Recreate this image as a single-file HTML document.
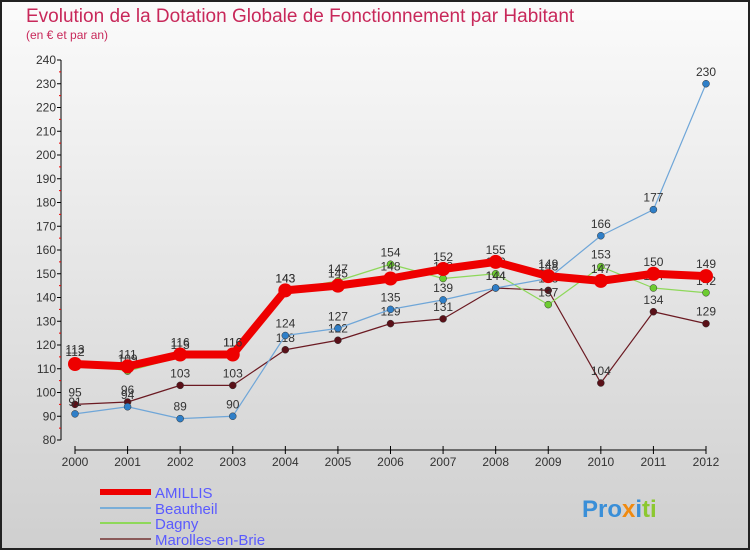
<!DOCTYPE html>
<html><head><meta charset="utf-8"><style>
body{margin:0}
svg text{font-family:"Liberation Sans",sans-serif}
</style></head><body>
<svg width="750" height="550" viewBox="0 0 750 550">
<defs><linearGradient id="bg" x1="0" y1="0" x2="0" y2="1"><stop offset="0" stop-color="#fbfbfb"/><stop offset="1" stop-color="#cfcfcf"/></linearGradient></defs>
<rect x="1" y="1" width="748" height="548" fill="url(#bg)" stroke="#222" stroke-width="2"/>
<text x="26" y="22" font-size="19" fill="#c8285a">Evolution de la Dotation Globale de Fonctionnement par Habitant</text>
<text x="26" y="39" font-size="12" fill="#c8285a">(en € et par an)</text>
<g id="axes"></g><g id="series"></g><g id="legend"></g>
</svg>
<script>
const years=[2000,2001,2002,2003,2004,2005,2006,2007,2008,2009,2010,2011,2012];
const yTicks=[80,90,100,110,120,130,140,150,160,170,180,190,200,210,220,230,240];
const amillis=[112,111,116,116,143,145,148,152,155,149,147,150,149];
const beautheil=[91,94,89,90,124,127,135,139,144,148,166,177,230];
const dagny=[113,109,115,116,143,147,154,148,150,137,153,144,142];
const marolles=[95,96,103,103,118,122,129,131,144,143,104,134,129];
const NS="http://www.w3.org/2000/svg";
const x=i=>75+i*(706-75)/12;
const y=v=>440-(v-80)*380/160;
function mk(tag,attrs,parent){const e=document.createElementNS(NS,tag);for(const k in attrs)e.setAttribute(k,attrs[k]);parent.appendChild(e);return e;}
const ax=document.getElementById('axes');
let yl=mk('line',{x1:61,y1:60,x2:61,y2:440,stroke:'#000'},ax);


yTicks.forEach(v=>{
 let t=mk('line',{x1:57,x2:61,y1:y(v),y2:y(v),stroke:'#000'},ax);
 
 
 if(v<240){
 let m=mk('line',{x1:59,x2:61,y1:y(v+5),y2:y(v+5),stroke:'#e00'},ax);
 
 
 }
 let tx=mk('text',{x:56,y:y(v)+4,'font-size':12,'text-anchor':'end',fill:'#333'},ax);tx.textContent=v;
 
 
});
let xl=mk('line',{x1:75,y1:450,x2:706,y2:450,stroke:'#000'},ax);


years.forEach((yr,i)=>{
 let t=mk('line',{x1:x(i),x2:x(i),y1:446,y2:454,stroke:'#000'},ax);
 
 
 let tx=mk('text',{x:x(i),y:466,'font-size':12,'text-anchor':'middle',fill:'#333'},ax);tx.textContent=yr;
 
 
});
const sg=document.getElementById('series');
const defs=[[marolles,'#6b1a22','#5a1018',1.2,3.5,'marolles'],[dagny,'#8ed85a','#6ccc30',1.2,3.5,'dagny'],[beautheil,'#6fa6d8','#2f7fc8',1.2,3.5,'beautheil'],[amillis,'#ee0000','#ee0000',8,7,'amillis']];
defs.forEach(([d,lc,pc,w,r,n])=>{
 let p=mk('polyline',{points:d.map((v,i)=>x(i)+','+y(v)).join(' '),fill:'none',stroke:lc,'stroke-width':w,'stroke-linejoin':'round'},sg);
 
 
 d.forEach((v,i)=>{
  let c=mk('circle',{cx:x(i),cy:y(v),r:r,fill:pc,stroke:'#333','stroke-width':n=='amillis'?0:0.5},sg);
  
  
  let t=mk('text',{x:x(i),y:y(v)-8,'font-size':12,'text-anchor':'middle',fill:'#333'},sg);t.textContent=v;
  
  
 });
});
</script>
<script>
(function(){
const lg=document.getElementById('legend');const NS="http://www.w3.org/2000/svg";
const names=['AMILLIS','Beautheil','Dagny','Marolles-en-Brie'];
const cols=['#ee0000','#7aaed8','#8ed85a','#8a5a5a'];
const ws=[6,2,2,2];
const ys=[492,508,523,539];
names.forEach((nm,k)=>{
 const l=document.createElementNS(NS,'line');
 l.setAttribute('x1',100);l.setAttribute('x2',151);l.setAttribute('y1',ys[k]);l.setAttribute('y2',ys[k]);
 l.setAttribute('stroke',cols[k]);l.setAttribute('stroke-width',ws[k]);
 
 
 lg.appendChild(l);
 const t=document.createElementNS(NS,'text');
 t.setAttribute('x',155);t.setAttribute('y',ys[k]+6);t.setAttribute('font-size',15);t.setAttribute('fill','#5a5aff');
 t.textContent=nm;
 
 
 lg.appendChild(t);
});
const p=document.createElementNS(NS,'text');
p.setAttribute('x',582);p.setAttribute('y',517);p.setAttribute('font-size',24);p.setAttribute('font-weight','bold');
p.innerHTML='<tspan fill="#3a8fd8">Pro</tspan><tspan fill="#f08a10">x</tspan><tspan fill="#3a8fd8">i</tspan><tspan fill="#8cc830">ti</tspan>';


lg.appendChild(p);
})();
</script>
</body></html>
